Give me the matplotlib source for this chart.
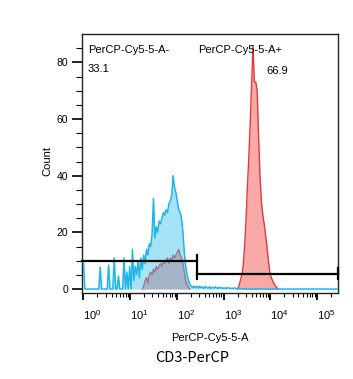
import numpy as np
import matplotlib
matplotlib.use("Agg")
import matplotlib.pyplot as plt
from matplotlib.ticker import FixedLocator, NullFormatter

plt.rcParams['font.family'] = ['Liberation Sans', 'DejaVu Sans']
plt.rcParams['mathtext.fontset'] = 'custom'
plt.rcParams['mathtext.rm'] = 'Liberation Sans'

# ---------------- data (log10 bin centres, counts) ----------------
step = 0.03
blue_start = 0.0
blue_counts = [
    10, 0, 0, 0, 0, 0, 0, 0, 0, 0, 0, 0,           # 0.00 - 0.33
    7.7, 0, 0, 0, 0, 0,                               # 0.36 - 0.51
    8.5, 0, 0, 0,                                     # 0.54 - 0.63
    11, 0, 0,                                         # 0.66 - 0.72
    4.5, 0, 0, 0,                                     # 0.75 - 0.84
    11, 0, 6, 0, 8, 0, 14,                            # 0.87 - 1.05
    3, 8, 5, 10, 4, 11, 7, 12, 9, 14, 12, 16, 15, 19,  # 1.08 - 1.47
    32, 18, 22, 20, 24, 23, 25, 27, 26, 28, 27, 30, 31, 33,  # 1.50 - 1.89
    40, 36, 34, 31, 28, 27, 25, 20, 13, 8, 5, 3, 1.5, 1, 0.5,  # 1.92 - 2.34
    1, 0.5, 1, 0.3, 1, 0.5, 0.8, 0.2, 1, 0.5, 0.3, 0.8, 0.2, 0.6, 0.3,
    0.8, 0.5, 0.2, 0.6, 0.3, 0.5, 0.2, 0.4, 0.2, 0.5, 0.3, 0.2, 0.3,
    0.2, 0.4, 0.2, 0.1, 0.2, 0.1, 0.2, 0.1, 0,        # 2.37 - 3.45
]

red_low_start = 1.26
red_low_counts = [
    0, 1, 3, 4, 2, 5, 6, 5, 7, 6, 8, 7, 8, 9, 8, 10, 9, 10, 11, 9, 11,
    10, 12, 11, 12, 13, 14, 12, 11, 9, 6, 3, 1.5, 0.5, 0,
]

red_high_start = 3.30
red_high_counts = [
    0, 1, 3, 5, 8, 15, 24, 36, 46, 58, 72, 86, 73, 73, 70, 54, 40, 31,
    26, 23, 19, 15, 10, 6, 4, 3, 2, 1, 0.5, 0,
]

x_log_min, x_log_max = -0.03, 5.45
y_min, y_max = -1.4, 90
gate_split = 270
gate_neg_y = 10
gate_pos_y = 5.4

neg_label, neg_pct = "PerCP-Cy5-5-A-", "33.1"
pos_label, pos_pct = "PerCP-Cy5-5-A+", "66.9"
xlabel = "PerCP-Cy5-5-A"
ylabel = "Count"
title_below = "CD3-PerCP"
yticks = [0, 20, 40, 60, 80]
xdecades = [0, 1, 2, 3, 4, 5]

# ---------------- build series ----------------
def series(start, counts):
    L = start + step * np.arange(len(counts))
    return 10 ** L, np.array(counts, float)

bx, by = series(blue_start, blue_counts)
bx = np.append(bx, 10 ** x_log_max)
by = np.append(by, 0)

rlx, rly = series(red_low_start, red_low_counts)
rhx, rhy = series(red_high_start, red_high_counts)

W, H = 353, 379
fig = plt.figure(figsize=(W / 100, H / 100), dpi=100)
ax = fig.add_axes([82 / W, 1 - 293 / H, (338 - 82) / W, (293 - 34) / H])

red_line = "#e23a3c"
red_fill = "#f98c8c"
blue_line = "#1fb6e6"
blue_fill = "#3cc3ef"

ax.fill_between(rlx, 0, rly, color=red_fill, alpha=0.75, lw=0, zorder=2)
ax.plot(rlx, rly, color=red_line, lw=1.0, zorder=2)
ax.fill_between(rhx, 0, rhy, color=red_fill, alpha=0.75, lw=0, zorder=2)
ax.plot(rhx, rhy, color=red_line, lw=1.0, zorder=2)

ax.fill_between(bx, 0, by, color=blue_fill, alpha=0.45, lw=0, zorder=3)
ax.plot(bx, by, color=blue_line, lw=1.1, zorder=3)

# gates
xl, xr = 10 ** x_log_min, 10 ** x_log_max
cap = 1.9
ax.plot([xl, gate_split], [gate_neg_y, gate_neg_y], color="black", lw=1.6, zorder=5, clip_on=False)
ax.plot([gate_split, gate_split], [gate_neg_y - cap, gate_neg_y + cap], color="black", lw=1.6, zorder=5)
ax.plot([gate_split, xr], [gate_pos_y, gate_pos_y], color="black", lw=1.6, zorder=5, clip_on=False)
ax.plot([gate_split, gate_split], [gate_pos_y - cap, gate_pos_y + cap], color="black", lw=1.6, zorder=5)
ax.plot([xr, xr], [gate_pos_y - cap, gate_pos_y + cap], color="black", lw=1.6, zorder=5, clip_on=False)

ax.set_xscale("log")
ax.set_xlim(xl, xr)
ax.set_ylim(y_min, y_max)

ax.set_xticks([10 ** d for d in xdecades])
ax.set_xticklabels([r"$10^{%d}$" % d for d in xdecades], fontsize=8, ha="left")
minors = [m * 10 ** d for d in range(-1, 6) for m in range(2, 10)]
ax.xaxis.set_minor_locator(FixedLocator([v for v in minors if xl < v < xr]))
ax.xaxis.set_minor_formatter(NullFormatter())
ax.tick_params(axis="x", which="major", length=5, width=1.3, pad=6, color="black")
ax.tick_params(axis="x", which="minor", length=3, width=0.8)

ax.set_yticks(yticks)
ax.set_yticklabels([str(v) for v in yticks], fontsize=7.5)
ax.yaxis.set_minor_locator(FixedLocator([v for v in range(5, 90, 5) if v % 20 != 0]))
ax.tick_params(axis="y", which="major", length=7, width=1.2, pad=3)
ax.tick_params(axis="y", which="minor", length=4, width=0.8)

for s in ax.spines.values():
    s.set_linewidth(1.0)
    s.set_color("#222222")

fig.text(47.7 / W, 1 - 161 / H, ylabel, rotation=90, ha="center", va="center", fontsize=8)
fig.text(210 / W, 1 - 338 / H, xlabel, ha="center", va="center", fontsize=8)
fig.text(192 / W, 1 - 358 / H, title_below, ha="center", va="center", fontsize=10.5,
         family=["Noto Sans CJK SC", "DejaVu Sans"])

fig.text(88 / W, 1 - 50 / H, neg_label, ha="left", va="center", fontsize=8)
fig.text(88 / W, 1 - 69 / H, neg_pct, ha="left", va="center", fontsize=8)
fig.text(198 / W, 1 - 50 / H, pos_label, ha="left", va="center", fontsize=8)
fig.text(288 / W, 1 - 71 / H, pos_pct, ha="right", va="center", fontsize=8)

fig.savefig("out.png", dpi=100)
